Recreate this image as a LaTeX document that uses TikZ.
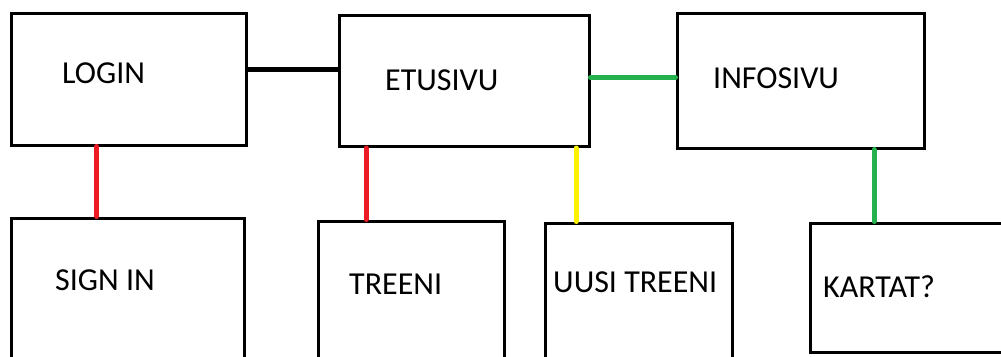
\documentclass[tikz,border=0pt]{standalone}
\usepackage{fontspec}
\setmainfont{Carlito}
\definecolor{paintred}{RGB}{237,28,36}
\definecolor{paintgreen}{RGB}{34,177,76}
\definecolor{paintyellow}{RGB}{255,242,0}
\tikzset{
  page/.style={draw=black, line width=3pt, rectangle, inner sep=0pt},
  caption/.style={inner sep=0pt, anchor=base west, font=\fontsize{32}{38}\selectfont},
  blackline/.style={draw=black, line width=5pt},
  link/.style={line width=5pt, line cap=round},
}
\begin{document}
\begin{tikzpicture}[x=1pt,y=-1pt]
\useasboundingbox (0,0) rectangle (1001,356);
% page boxes
\node[page, minimum width=234.5pt, minimum height=132pt] (login) at (128.75,79) {};
\node[page, minimum width=250pt, minimum height=131.5pt] (etusivu) at (464,80.75) {};
\node[page, minimum width=247pt, minimum height=134.5pt] (infosivu) at (800.5,80.75) {};
\node[page, minimum width=233pt, minimum height=182pt] (signin) at (127.5,309) {};
\node[page, minimum width=186pt, minimum height=179pt] (treeni) at (411,310.5) {};
\node[page, minimum width=187pt, minimum height=177pt] (uusi) at (638.5,311.5) {};
\node[page, minimum width=200pt, minimum height=129pt] (kartat) at (910,287.5) {};
% captions
\node[caption] (tlogin) at (62,83) {LOGIN};
\node[caption] (tetusivu) at (385,90) {ETUSIVU};
\node[caption] (tinfosivu) at (713,88) {INFOSIVU};
\node[caption] (tsignin) at (55,290) {SIGN IN};
\node[caption] (ttreeni) at (349,294) {TREENI};
\node[caption] (tuusi) at (553,292) {UUSI TREENI};
\node[caption] (tkartat) at (823,297) {KARTAT?};
% connectors
\draw[blackline] ([yshift=10pt]login.east) coordinate (c1) -- (c1 -| etusivu.west);
\draw[link, paintgreen] ([yshift=3.5pt]etusivu.east) coordinate (c2) -- (c2 -| infosivu.west);
\draw[link, paintred] ([xshift=-32pt]login.south) coordinate (c3) -- (c3 |- signin.north);
\draw[link, paintred] ([xshift=-98pt]etusivu.south) coordinate (c4) -- (c4 |- treeni.north);
\draw[link, paintyellow] ([xshift=112pt]etusivu.south) coordinate (c5) -- (c5 |- uusi.north);
\draw[link, paintgreen] ([xshift=73.5pt]infosivu.south) coordinate (c6) -- (c6 |- kartat.north);
\end{tikzpicture}
\end{document}
